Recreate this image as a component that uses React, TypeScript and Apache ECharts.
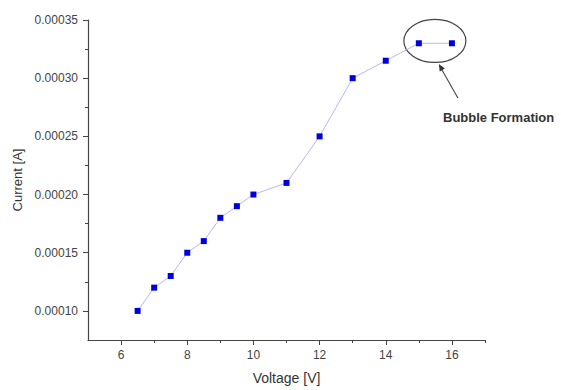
import React, { useEffect, useRef } from "react";
import * as echarts from "echarts";

const voltage = [6.5, 7, 7.5, 8, 8.5, 9, 9.5, 10, 11, 12, 13, 14, 15, 16];
const current = [
  0.0001, 0.00012, 0.00013, 0.00015, 0.00016, 0.00018, 0.00019, 0.0002,
  0.00021, 0.00025, 0.0003, 0.000315, 0.00033, 0.00033,
];
const xMajor = [6, 8, 10, 12, 14, 16];
const xMinor = [7, 9, 11, 13, 15, 17];
const yMajor = [0.0001, 0.00015, 0.0002, 0.00025, 0.0003, 0.00035];
const yMinor = [0.000125, 0.000175, 0.000225, 0.000275, 0.000325];
const annotationText = "Bubble Formation";

const FONT = "Liberation Sans, Arial, sans-serif";

export default function App() {
  const ref = useRef<HTMLDivElement>(null);
  useEffect(() => {
    document.body.style.margin = "0";
    if (!ref.current) return;
    const chart = echarts.init(ref.current, undefined, { renderer: "svg" });
    const axisCommon = {
      type: "value" as const,
      splitLine: { show: false },
    };
    chart.setOption({
      animation: false,
      backgroundColor: "#ffffff",
      grid: { left: 88, right: 76, top: 20, bottom: 47 },
      xAxis: [
        {
          ...axisCommon,
          min: 5,
          max: 17,
          name: "Voltage [V]",
          nameLocation: "middle",
          nameGap: 31,
          nameTextStyle: { fontFamily: FONT, fontSize: 14, color: "#333" },
          axisLine: { show: true, onZero: false, lineStyle: { color: "#444", width: 1.2 } },
          axisTick: { show: true, customValues: xMajor, length: 5, lineStyle: { color: "#444" } },
          axisLabel: {
            customValues: xMajor,
            fontFamily: FONT,
            fontSize: 12,
            color: "#444",
            margin: 9,
          },
        },
        {
          ...axisCommon,
          min: 5,
          max: 17,
          position: "bottom",
          axisLine: { show: false },
          axisTick: { show: true, customValues: xMinor, length: 3, lineStyle: { color: "#444" } },
          axisLabel: { show: false },
        },
      ],
      yAxis: [
        {
          ...axisCommon,
          min: 0.000075,
          max: 0.00035,
          name: "Current [A]",
          nameLocation: "middle",
          nameGap: 64,
          nameTextStyle: { fontFamily: FONT, fontSize: 13, color: "#333" },
          axisLine: { show: true, onZero: false, lineStyle: { color: "#444", width: 1.2 } },
          axisTick: { show: true, customValues: yMajor, length: 5, lineStyle: { color: "#444" } },
          axisLabel: {
            customValues: yMajor,
            formatter: (v: number) => v.toFixed(5),
            fontFamily: FONT,
            fontSize: 12,
            color: "#444",
            margin: 10,
          },
        },
        {
          ...axisCommon,
          min: 0.000075,
          max: 0.00035,
          position: "left",
          axisLine: { show: false },
          axisTick: { show: true, customValues: yMinor, length: 3, lineStyle: { color: "#444" } },
          axisLabel: { show: false },
        },
      ],
      series: [
        {
          type: "line",
          xAxisIndex: 0,
          yAxisIndex: 0,
          data: voltage.map((v, i) => [v, current[i]]),
          symbol: "rect",
          symbolSize: 6,
          lineStyle: { color: "#b4b8f2", width: 1 },
          itemStyle: { color: "#0000dd" },
        },
      ],
    });

    const c = chart.convertToPixel({ xAxisIndex: 0, yAxisIndex: 0 }, [15.5, 0.000332]) as number[];
    const cx = c[0] - 0.5;
    const cy = c[1];
    const tip = [cx + 4, cy + 23];
    const tail = [cx + 23, cy + 57];
    chart.setOption({
      graphic: [
        {
          type: "ellipse",
          shape: { cx, cy, rx: 31, ry: 21.5 },
          style: { fill: "none", stroke: "#444", lineWidth: 1.2 },
        },
        {
          type: "line",
          shape: { x1: tail[0], y1: tail[1], x2: tip[0] + 2, y2: tip[1] + 4 },
          style: { stroke: "#444", lineWidth: 1.1 },
        },
        {
          type: "polygon",
          shape: {
            points: [
              [tip[0], tip[1]],
              [tip[0] + 6, tip[1] + 4.6],
              [tip[0] + 0.8, tip[1] + 7.6],
            ],
          },
          style: { fill: "#333" },
        },
        {
          type: "text",
          x: 443,
          y: 117,
          style: {
            text: annotationText,
            fontFamily: FONT,
            fontSize: 13,
            fontWeight: "bold",
            fill: "#333",
            verticalAlign: "middle",
          },
        },
      ],
    });
    return () => chart.dispose();
  }, []);
  return <div ref={ref} style={{ width: 561, height: 390 }} />;
}
